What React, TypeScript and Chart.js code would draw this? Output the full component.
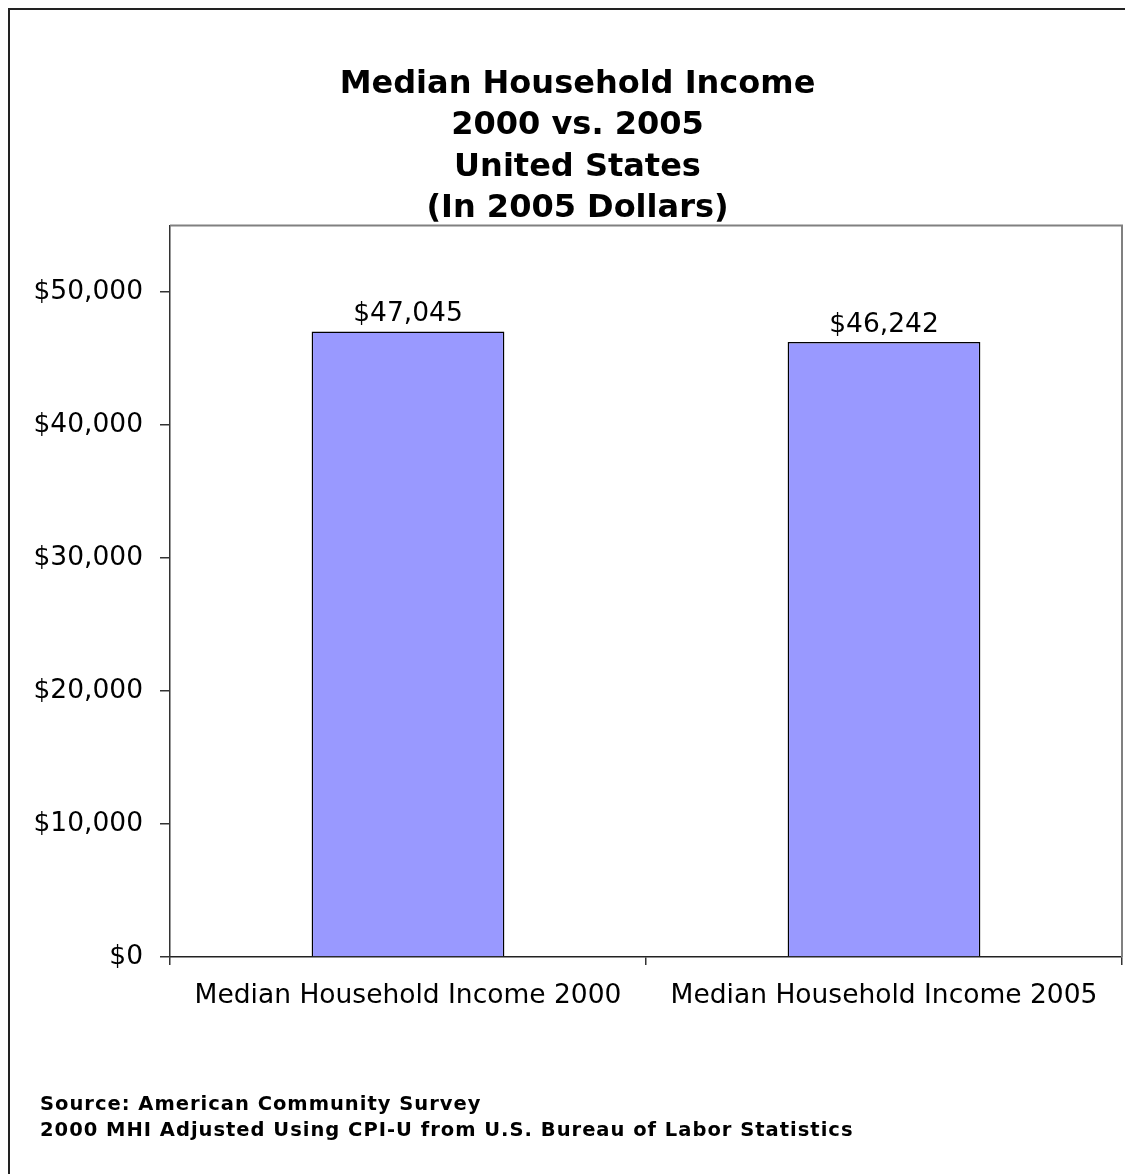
import React, { useEffect, useRef } from 'react';
import { Chart, registerables } from 'chart.js';

Chart.register(...registerables);

const categories = ['Median Household Income 2000', 'Median Household Income 2005'];
const incomeValues = [47045, 46242];
const titleLines = ['Median Household Income', '2000 vs. 2005', 'United States', '(In 2005 Dollars)'];
const sourceLines = [
  'Source: American Community Survey',
  '2000 MHI Adjusted Using CPI-U from U.S. Bureau of Labor Statistics',
];
const yTickValues = [0, 10000, 20000, 30000, 40000, 50000];
const yMax = 55000;

const FONT = "'DejaVu Sans', sans-serif";
const W = 1125;
const H = 1166;

const fmt = (v: number) => '$' + Number(v).toLocaleString('en-US');

const frameAndLabels = {
  id: 'frameAndLabels',
  beforeDatasetsDraw(chart: any) {
    const { ctx, chartArea } = chart;
    ctx.save();
    ctx.strokeStyle = '#808080';
    ctx.lineWidth = 2;
    ctx.beginPath();
    ctx.moveTo(chartArea.left, chartArea.top);
    ctx.lineTo(chartArea.right, chartArea.top);
    ctx.lineTo(chartArea.right, chartArea.bottom);
    ctx.stroke();
    ctx.restore();
  },
  afterDatasetsDraw(chart: any) {
    const { ctx } = chart;
    const meta = chart.getDatasetMeta(0);
    ctx.save();
    ctx.fillStyle = '#000';
    ctx.font = `26.5px ${FONT}`;
    ctx.textAlign = 'center';
    ctx.textBaseline = 'alphabetic';
    meta.data.forEach((bar: any, i: number) => {
      ctx.fillText(fmt(incomeValues[i]), bar.x, bar.y - 10);
    });
    ctx.restore();
  },
};

export default function App() {
  const ref = useRef<HTMLCanvasElement | null>(null);

  useEffect(() => {
    if (!ref.current) return;
    const chart = new Chart(ref.current, {
      type: 'bar',
      data: {
        labels: categories,
        datasets: [
          {
            data: incomeValues,
            backgroundColor: '#9999FF',
            borderColor: '#000000',
            borderWidth: 1.5,
            categoryPercentage: 1,
            barPercentage: 0.405,
          },
        ],
      },
      options: {
        responsive: false,
        animation: false,
        devicePixelRatio: 1,
        layout: { padding: { left: 25, right: 11, top: 0, bottom: 0 } },
        plugins: {
          legend: { display: false },
          tooltip: { enabled: false },
          title: {
            display: true,
            text: titleLines,
            color: '#000',
            font: { family: FONT, size: 32, weight: 'bold', lineHeight: 1.3 },
            padding: { top: 55.5, bottom: -4.3 },
          },
        },
        scales: {
          x: {
            grid: {
              display: true,
              drawOnChartArea: false,
              drawTicks: true,
              tickLength: 8,
              color: '#333',
              lineWidth: 1.5,
              offset: true,
            },
            border: { display: true, color: '#222', width: 1.5 },
            ticks: {
              color: '#000',
              font: { family: FONT, size: 26.5, lineHeight: 1.2 },
              padding: 15,
              maxRotation: 0,
              autoSkip: false,
            },
            afterFit(scale: any) {
              scale.height = 217;
            },
          },
          y: {
            min: 0,
            max: yMax,
            grid: {
              display: true,
              drawOnChartArea: false,
              drawTicks: true,
              tickLength: 10,
              color: '#333',
              lineWidth: 1.5,
            },
            border: { display: true, color: '#333', width: 1.5 },
            ticks: {
              color: '#000',
              font: { family: FONT, size: 26.5 },
              padding: 17,
              callback: (v: any) => fmt(v),
            },
            afterBuildTicks(scale: any) {
              scale.ticks = yTickValues.map((v) => ({ value: v }));
            },
            afterFit(scale: any) {
              scale.width = 137;
            },
          },
        },
      },
      plugins: [frameAndLabels],
    } as any);
    return () => chart.destroy();
  }, []);

  return (
    <div style={{ position: 'relative', width: W, height: H, background: '#fff' }}>
      <canvas ref={ref} width={W} height={H} style={{ display: 'block', width: W, height: H }} />
      <div
        style={{
          position: 'absolute',
          left: 0,
          top: 0,
          width: W,
          height: H,
          borderLeft: '2px solid #222',
          borderTop: '2px solid #222',
          boxSizing: 'border-box',
          pointerEvents: 'none',
        }}
      />
      <div
        style={{
          position: 'absolute',
          left: 32,
          top: 1083,
          fontFamily: FONT,
          fontWeight: 'bold',
          fontSize: 19.5,
          lineHeight: '26px',
          letterSpacing: '1px',
          color: '#000',
          whiteSpace: 'nowrap',
        }}
      >
        {sourceLines.map((s) => (
          <div key={s}>{s}</div>
        ))}
      </div>
    </div>
  );
}
